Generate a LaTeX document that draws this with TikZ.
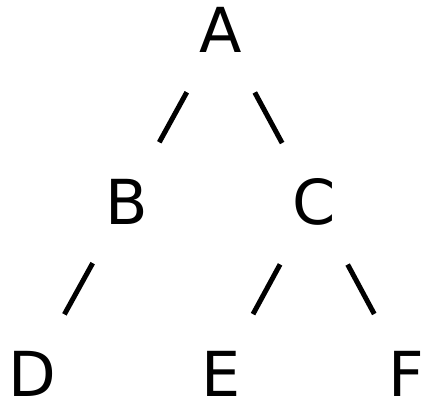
\documentclass[tikz,border=0pt]{standalone}
\usepackage{fontspec}
\setmainfont{DejaVu Sans}
\begin{document}
\begin{tikzpicture}[x=1pt, y=-1pt,
    letter/.style={inner sep=0pt, text height=46pt, text depth=0pt,
        font=\fontsize{62}{62}\selectfont},
    branch/.style={line width=5pt, shorten <=71pt, shorten >=67pt}]
    \useasboundingbox (0,0) rectangle (425,403);

    % Tree nodes
    \node[letter] (A) at (221,30) {A};
    \node[letter] (B) at (127,201) {B};
    \node[letter] (C) at (314,202) {C};
    \node[letter] (D) at (32,373) {D};
    \node[letter] (E) at (221,373) {E};
    \node[letter] (F) at (406,373) {F};

    % Branches
    \draw[branch] (A.center) -- (B.center);
    \draw[branch] (A.center) -- (C.center);
    \draw[branch] (B.center) -- (D.center);
    \draw[branch] (C.center) -- (E.center);
    \draw[branch] (C.center) -- (F.center);

\end{tikzpicture}
\end{document}
